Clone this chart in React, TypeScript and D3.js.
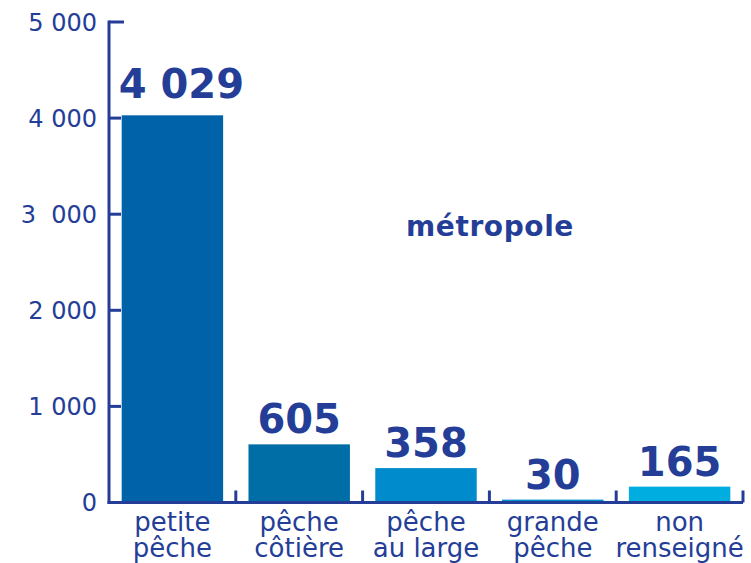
import * as d3 from 'd3';

const CATEGORIES = [['petite', 'pêche'], ['pêche', 'côtière'], ['pêche', 'au large'], ['grande', 'pêche'], ['non', 'renseigné']];
const VALUES = [4029, 605, 358, 30, 165];
const VALUE_LABELS = ['4 029', '605', '358', '30', '165'];
const BAR_COLORS = ['#0062a8', '#006ea6', '#008ccc', '#0090cf', '#00ade0'];
const Y_TICKS = [0, 1000, 2000, 3000, 4000, 5000];
const Y_TICK_LABELS = ['0', '1 000', '2 000', '3  000', '4 000', '5 000'];
const TITLE = 'métropole';

const W = 751;
const H = 563;
const NAVY = '#243e98';
const AXIS_X = 109;
const BASE_Y = 502.5;

export default function App() {
  const x = d3.scaleBand<number>()
    .domain(d3.range(VALUES.length))
    .range([AXIS_X, 743])
    .paddingInner(0.2)
    .paddingOuter(0.1);
  const y = d3.scaleLinear().domain([0, 5000]).range([BASE_Y, 22]);
  const step = x.step();

  return (
    <svg width={W} height={H} style={{ position: 'absolute', left: 0, top: 0, display: 'block' }}>
      <rect width={W} height={H} fill="#fff" />

      {/* bars */}
      {VALUES.map((v, i) => (
        <rect key={i} x={x(i)} y={y(v)} width={x.bandwidth()} height={BASE_Y - y(v)} fill={BAR_COLORS[i]} />
      ))}

      {/* y axis */}
      <line x1={AXIS_X} x2={AXIS_X} y1={y(5000) - 1.5} y2={BASE_Y + 1.5} stroke={NAVY} strokeWidth={3} />
      {Y_TICKS.map((t, i) => (
        <g key={t}>
          <line x1={AXIS_X} x2={AXIS_X + (t === 5000 ? 15 : 12)} y1={y(t)} y2={y(t)} stroke={NAVY} strokeWidth={3} />
          <text x={97} y={y(t)} dy="0.36em" textAnchor="end" fill={NAVY}
            fontFamily="DejaVu Sans" fontSize={24} style={{ whiteSpace: 'pre' }}>
            {Y_TICK_LABELS[i]}
          </text>
        </g>
      ))}

      {/* x axis */}
      <line x1={AXIS_X - 1.5} x2={x(VALUES.length - 1)! + x.bandwidth() + step * 0.1} y1={BASE_Y} y2={BASE_Y} stroke={NAVY} strokeWidth={3} />
      {VALUES.map((_, i) => {
        const tx = x(i)! + x.bandwidth() + step * 0.1;
        return <line key={i} x1={tx} x2={tx} y1={BASE_Y} y2={BASE_Y - 12} stroke={NAVY} strokeWidth={3} />;
      })}

      {/* value labels */}
      {VALUES.map((v, i) => (
        <text key={i} x={x(i)! + x.bandwidth() / 2 + (i === 0 ? 9 : 0)} y={y(v) - (i === 0 ? 17 : 11)}
          textAnchor="middle" fill={NAVY} fontFamily="DejaVu Sans" fontWeight="bold" fontSize={40}>
          {VALUE_LABELS[i]}
        </text>
      ))}

      {/* category labels */}
      {CATEGORIES.map((lines, i) => (
        <text key={i} textAnchor="middle" fill={NAVY} fontFamily="DejaVu Sans" fontSize={26}>
          <tspan x={x(i)! + x.bandwidth() / 2} y={531}>{lines[0]}</tspan>
          <tspan x={x(i)! + x.bandwidth() / 2} y={557}>{lines[1]}</tspan>
        </text>
      ))}

      <text x={490} y={236} textAnchor="middle" fill={NAVY} fontFamily="DejaVu Sans" fontWeight="bold"
        fontSize={28} letterSpacing={0.6}>
        {TITLE}
      </text>
    </svg>
  );
}
